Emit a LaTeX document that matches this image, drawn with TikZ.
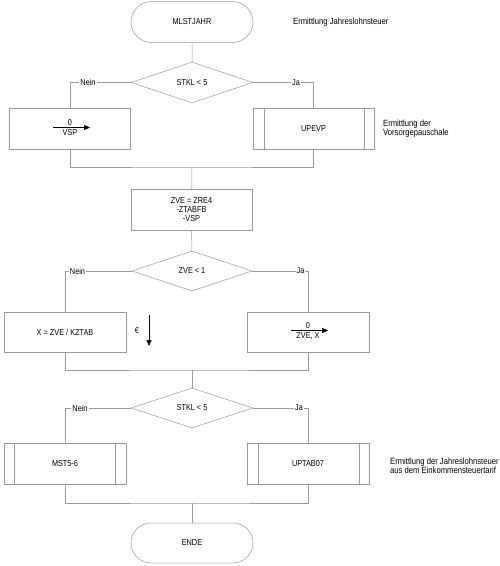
\documentclass[tikz,border=0pt]{standalone}
\usepackage{fontspec}
\setmainfont[FakeStretch=0.85]{Liberation Sans}
\usetikzlibrary{shapes.geometric,shapes.misc,arrows.meta}
\begin{document}
\begin{tikzpicture}[x=1pt,y=-1pt, font=\fontsize{8.6}{9}\selectfont,
 ln/.style={draw=black!40, line width=0.5pt},
 term/.style={rounded rectangle, ln, minimum width=122pt, minimum height=41pt, inner sep=0pt},
 box/.style={rectangle, ln, minimum width=121pt, minimum height=41pt, inner sep=0pt, align=center},
 dia/.style={diamond, ln, minimum width=122pt, minimum height=41pt, inner sep=0pt},
 lbl/.style={fill=white, inner sep=1pt},
 txt/.style={inner sep=0pt},
 note/.style={anchor=west, align=left, inner sep=0pt, font=\fontsize{9}{9.5}\selectfont},
 arr/.style={-{Triangle[length=6pt,width=5pt]}, black, line width=0.6pt}]
\useasboundingbox (0,0) rectangle (500,566);

% --- top
\node[term] (start) at (192,22) {MLSTJAHR};
\node[note] (n1) at (293,22) {Ermittlung Jahreslohnsteuer};
\node[dia] (d1) at (192,82.5) {STKL < 5};
\node[box] (b1) at (70,129) {};
\node[box] (b2) at (313.5,129) {UPEVP};
\draw[ln] ([xshift=11pt]b2.north west) -- ([xshift=11pt]b2.south west);
\draw[ln] ([xshift=-10pt]b2.north east) -- ([xshift=-10pt]b2.south east);
\node[note] (n2) at (383,128.5) {Ermittlung der\\Vorsorgepauschale};
\node[txt] (v0) at (70,123) {0};
\node[txt] (vsp) at (70,132.5) {VSP};
\coordinate (a1s) at (53,127.5);
\coordinate (a1e) at (90,127.5);
\draw[arr] (a1s) -- (a1e);

\draw[ln] (start) -- (d1);
\draw[ln] (d1.west) -| (b1.north);
\draw[ln] (d1.east) -| (b2.north);
\node[lbl] (nein1) at (88,82.5) {Nein};
\node[lbl] (ja1) at (296,82.5) {Ja};
\coordinate (m1) at (192,167);
\draw[ln] (b1.south) |- (m1) -| (b2.south);

% --- middle
\node[box] (zve) at (191.5,210) {ZVE = ZRE4\\-ZTABFB\\-VSP};
\draw[ln] (m1) -- (zve);
\node[dia, minimum width=120pt, minimum height=40pt] (d2) at (192,271) {ZVE < 1};
\draw[ln] (zve) -- (d2);
\node[box, minimum width=122pt, minimum height=40pt] (b3) at (65,332) {X = ZVE / KZTAB};
\node[box, minimum width=122pt, minimum height=40pt] (b4) at (308,332) {};
\draw[ln] (d2.west) -| (b3.north);
\draw[ln] (d2.east) -| (b4.north);
\node[lbl] (nein2) at (77.5,271) {Nein};
\node[lbl] (ja2) at (300.5,271) {Ja};
\node[txt] (z0) at (308,326) {0};
\node[txt] (zx) at (308,336) {ZVE, X};
\coordinate (a2s) at (291,330.5);
\coordinate (a2e) at (328,330.5);
\draw[arr] (a2s) -- (a2e);
\node[txt] (euro) at (137,331) {€};
\coordinate (a3s) at (149,315);
\coordinate (a3e) at (149,346);
\draw[arr] (a3s) -- (a3e);
\coordinate (m2) at (192,370);
\draw[ln] (b3.south) |- (m2) -| (b4.south);

% --- bottom
\node[dia, minimum height=40pt] (d3) at (192,408) {STKL < 5};
\draw[ln] (m2) -- (d3);
\node[box, minimum width=122pt] (b5) at (65,463.5) {MST5-6};
\node[box, minimum width=122pt] (b6) at (308,463.5) {UPTAB07};
\draw[ln] ([xshift=10pt]b5.north west) -- ([xshift=10pt]b5.south west);
\draw[ln] ([xshift=-11pt]b5.north east) -- ([xshift=-11pt]b5.south east);
\draw[ln] ([xshift=11pt]b6.north west) -- ([xshift=11pt]b6.south west);
\draw[ln] ([xshift=-10pt]b6.north east) -- ([xshift=-10pt]b6.south east);
\draw[ln] (d3.west) -| (b5.north);
\draw[ln] (d3.east) -| (b6.north);
\node[lbl] (nein3) at (80,408) {Nein};
\node[lbl] (ja3) at (299,408) {Ja};
\node[note] (n3) at (390,466) {Ermittlung der Jahreslohnsteuer\\aus dem Einkommensteuertarif};
\coordinate (m3) at (192,503);
\draw[ln] (b5.south) |- (m3) -| (b6.south);
\node[term, minimum height=40pt] (ende) at (192,543) {ENDE};
\draw[ln] (m3) -- (ende);
\end{tikzpicture}
\end{document}
